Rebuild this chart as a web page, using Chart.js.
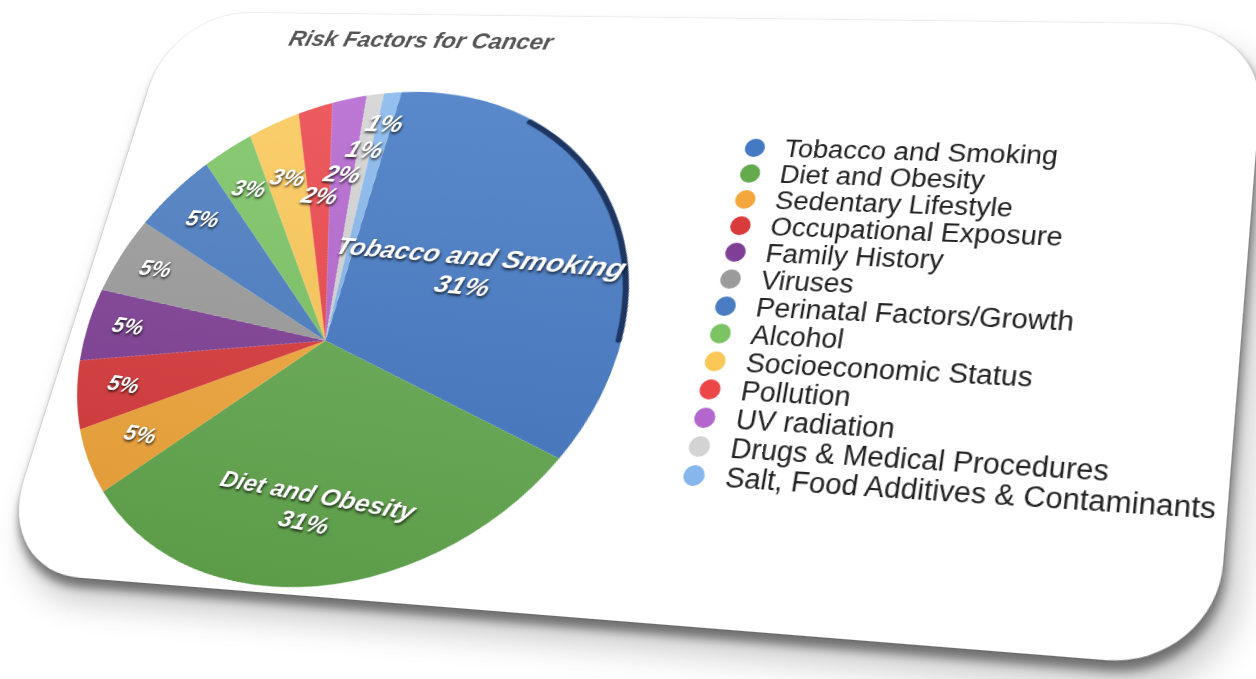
<!DOCTYPE html>
<html>
<head>
<meta charset="utf-8">
<title>Risk Factors for Cancer</title>
<script src="https://cdn.jsdelivr.net/npm/chart.js@4.4.1/dist/chart.umd.min.js"></script>
<style>
    html, body {
        margin: 0;
        padding: 0;
        width: 1256px;
        height: 679px;
        overflow: hidden;
        background: #fff;
        font-family: "Liberation Sans", Arial, sans-serif;
    }
    #card {
        position: absolute;
        left: 0;
        top: 0;
        width: 1150px;
        height: 620px;
        background: #fff;
        border-radius: 90px;
        transform-origin: 0 0;
        box-shadow: 0 0 2px rgba(0, 0, 0, 0.25),
                    3px 9px 8px rgba(0, 0, 0, 0.45),
                    14px 22px 30px rgba(0, 0, 0, 0.22);
    }
    #title {
        position: absolute;
        left: 42px;
        top: 15px;
        width: 500px;
        text-align: center;
        line-height: 30px;
        font-size: 26px;
        font-style: italic;
        font-weight: bold;
        color: #555;
    }
    #pie {
        position: absolute;
        left: 0;
        top: 0;
        transform-origin: 0 0;
    }
    #legend {
        position: absolute;
        left: 662px;
        top: 131px;
    }
    .row {
        display: flex;
        align-items: center;
        height: 28px;
        font-size: 27px;
        color: #222;
        white-space: nowrap;
    }
    .dot {
        width: 20px;
        height: 20px;
        border-radius: 50%;
        margin-right: 20px;
        flex: none;
    }
</style>
</head>
<body>
<div id="card">
    <div id="title">Risk Factors for Cancer</div>
    <canvas id="pie" width="548" height="548"></canvas>
    <div id="legend"></div>
</div>
<script>
// 데이터
const categories = [
    'Tobacco and Smoking',
    'Diet and Obesity',
    'Sedentary Lifestyle',
    'Occupational Exposure',
    'Family History',
    'Viruses',
    'Perinatal Factors/Growth',
    'Alcohol',
    'Socioeconomic Status',
    'Pollution',
    'UV radiation',
    'Drugs & Medical Procedures',
    'Salt, Food Additives & Contaminants'
];
const shares = [31, 31, 5, 5, 5, 5, 5, 3, 3, 2, 2, 1, 1];
const sliceColors = [
    '#4479c4', '#64aa4f', '#f3a73c', '#d93a3c', '#7f3f96', '#9b9b9b', '#4a7cc2',
    '#7cc463', '#fbc858', '#ec4649', '#b466cf', '#d3d3d3', '#86b6ec'
];

// 라벨 위치 (반지름 비율)
const LABEL_RADIUS = [0.52, 0.69, 0.77, 0.8, 0.82, 0.82, 0.8, 0.78, 0.74, 0.61, 0.68, 0.77, 0.87];

// 원근 보정: 카드는 화면 위, 파이는 카드 위의 사각형에 매핑
const CARD_W = 1150, CARD_H = 620;
const CARD_QUAD = [[173, 12], [1266, 25], [1215, 669], [-5, 571]];
const PIE_SIZE = 548;
const PIE_QUAD = [[30, 91], [629, 91], [524, 646], [5, 581]];

function perspective(w, h, p) {
    const [x0, y0] = p[0], [x1, y1] = p[1], [x2, y2] = p[2], [x3, y3] = p[3];
    const dx1 = x1 - x2, dx2 = x3 - x2, dy1 = y1 - y2, dy2 = y3 - y2;
    const sx = x0 - x1 + x2 - x3, sy = y0 - y1 + y2 - y3;
    const den = dx1 * dy2 - dx2 * dy1;
    const g = (sx * dy2 - dx2 * sy) / den;
    const k = (dx1 * sy - sx * dy1) / den;
    const a = x1 - x0 + g * x1, b = x3 - x0 + k * x3;
    const d = y1 - y0 + g * y1, e = y3 - y0 + k * y3;
    const m = [a / w, d / w, 0, g / w, b / h, e / h, 0, k / h, 0, 0, 1, 0, x0, y0, 0, 1];
    return 'matrix3d(' + m.join(',') + ')';
}
document.getElementById('card').style.transform = perspective(CARD_W, CARD_H, CARD_QUAD);
document.getElementById('pie').style.transform = perspective(PIE_SIZE, PIE_SIZE, PIE_QUAD);

// 범례
const legend = document.getElementById('legend');
categories.forEach((name, i) => {
    const row = document.createElement('div');
    row.className = 'row';
    const dot = document.createElement('span');
    dot.className = 'dot';
    dot.style.background = sliceColors[i];
    row.appendChild(dot);
    row.appendChild(document.createTextNode(name));
    legend.appendChild(row);
});

// 색 밝기 조절
function shade(hex, amt) {
    const n = parseInt(hex.slice(1), 16);
    const ch = [n >> 16, (n >> 8) & 255, n & 255].map(c => {
        const v = amt >= 0 ? c + (255 - c) * amt : c * (1 + amt);
        return Math.round(Math.min(255, Math.max(0, v)));
    });
    return 'rgb(' + ch.join(',') + ')';
}

// 위는 밝고 아래는 어두운 그라데이션
function sliceFill(context) {
    const base = sliceColors[context.dataIndex];
    const area = context.chart.chartArea;
    if (!area) return base;
    const grad = context.chart.ctx.createLinearGradient(0, area.top, 0, area.bottom);
    grad.addColorStop(0, shade(base, 0.12));
    grad.addColorStop(1, shade(base, -0.08));
    return grad;
}

// 조각 라벨 + 첫 조각 가장자리 그림자
const sliceLabels = {
    id: 'sliceLabels',
    afterDatasetsDraw(chart) {
        const ctx = chart.ctx;
        const meta = chart.getDatasetMeta(0);

        // 담배 조각 바깥 테두리 (입체 옆면)
        const first = meta.data[0].getProps(['x', 'y', 'startAngle', 'endAngle', 'outerRadius'], true);
        const span = first.endAngle - first.startAngle;
        ctx.save();
        ctx.strokeStyle = '#1d3560';
        ctx.lineWidth = 5;
        ctx.lineCap = 'round';
        ctx.beginPath();
        ctx.arc(first.x, first.y, first.outerRadius - 2.5,
            first.startAngle + span * 0.26, first.startAngle + span * 0.77);
        ctx.stroke();
        ctx.restore();

        ctx.save();
        ctx.font = 'italic bold 26px "Liberation Sans", Arial, sans-serif';
        ctx.fillStyle = '#fff';
        ctx.textAlign = 'center';
        ctx.textBaseline = 'middle';
        ctx.shadowColor = 'rgba(0, 0, 0, 0.75)';
        ctx.shadowOffsetX = 1;
        ctx.shadowOffsetY = 2;
        ctx.shadowBlur = 3;
        meta.data.forEach((arc, i) => {
            const p = arc.getProps(['x', 'y', 'startAngle', 'endAngle', 'outerRadius'], true);
            const mid = (p.startAngle + p.endAngle) / 2;
            const r = p.outerRadius * LABEL_RADIUS[i];
            const lx = p.x + Math.cos(mid) * r;
            const ly = p.y + Math.sin(mid) * r;
            const lines = shares[i] >= 10 ? [categories[i], shares[i] + '%'] : [shares[i] + '%'];
            lines.forEach((t, k) => {
                ctx.fillText(t, lx, ly + (k - (lines.length - 1) / 2) * 31);
            });
        });
        ctx.restore();
    }
};

// 차트 생성
new Chart(document.getElementById('pie'), {
    type: 'pie',
    data: {
        labels: categories,
        datasets: [{
            data: shares,
            backgroundColor: sliceFill,
            borderWidth: 0,
            hoverOffset: 0
        }]
    },
    options: {
        responsive: false,
        animation: false,
        rotation: -4,
        layout: { padding: 0, autoPadding: false },
        plugins: {
            legend: { display: false },
            tooltip: { enabled: false },
            title: { display: false }
        }
    },
    plugins: [sliceLabels]
});
</script>
</body>
</html>
